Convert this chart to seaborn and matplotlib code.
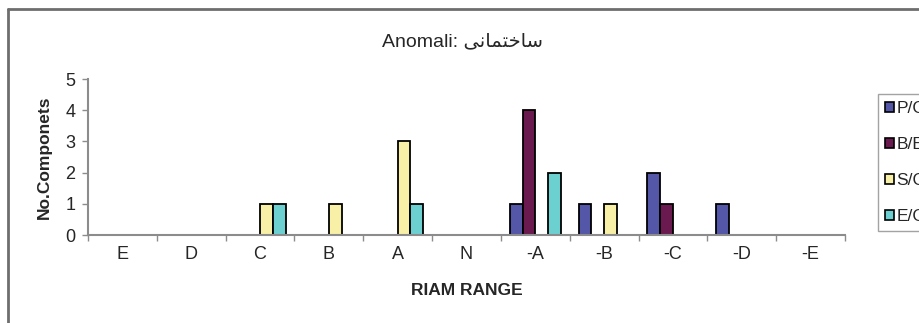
import numpy as np
import pandas as pd
import seaborn as sns
import matplotlib.pyplot as plt
from matplotlib.lines import Line2D
from matplotlib.patches import Patch

ranges = ["E", "D", "C", "B", "A", "N", "-A", "-B", "-C", "-D", "-E"]
series = ["P/C", "B/E", "S/C", "E/O"]
pc = [0, 0, 0, 0, 0, 0, 1, 1, 2, 1, 0]
be = [0, 0, 0, 0, 0, 0, 4, 0, 1, 0, 0]
sc = [0, 0, 1, 1, 3, 0, 0, 1, 0, 0, 0]
eo = [0, 0, 1, 0, 1, 0, 2, 0, 0, 0, 0]
colors = ["#5456a8", "#6a1a4e", "#f8f0a6", "#6ccfd0"]

df = pd.DataFrame({
    "range": ranges * 4,
    "series": np.repeat(series, len(ranges)),
    "count": pc + be + sc + eo,
})

sns.set_style("white")
plt.rcParams["font.family"] = ["Liberation Sans", "DejaVu Sans"]

fig = plt.figure(figsize=(9.2, 3.23), dpi=100)
ax = fig.add_axes([88 / 920, 1 - 235 / 323, (845 - 88) / 920, (235 - 79) / 323])

sns.barplot(data=df, x="range", y="count", hue="series", order=ranges,
            hue_order=series, palette=colors, edgecolor="black",
            linewidth=1.3, width=0.745, saturation=1, legend=False, ax=ax)

# hide empty bars so the baseline stays grey
for p in ax.patches:
    if p.get_height() == 0:
        p.set_visible(False)

ax.set_ylim(0, 5)
ax.set_xlim(-0.5, len(ranges) - 0.5)
ax.set_yticks(range(6))
ax.set_xticks(np.arange(len(ranges) + 1) - 0.5, minor=True)
ax.tick_params(axis="x", which="major", length=0, labelsize=13, pad=8)
ax.tick_params(axis="x", which="minor", length=4, color="#8c8c8c", width=1,
               direction="out", bottom=True)
ax.tick_params(axis="y", length=4, color="#8c8c8c", width=1,
               direction="out", left=True, labelsize=13, pad=5)
for s in ["top", "right"]:
    ax.spines[s].set_visible(False)
for s in ["left", "bottom"]:
    ax.spines[s].set_color("#8c8c8c")
    ax.spines[s].set_linewidth(1.5)

ax.set_xlabel("RIAM RANGE", fontsize=12.5, fontweight="bold", labelpad=14)
ax.set_ylabel("No.Componets", fontsize=12.5, fontweight="bold", labelpad=10)

# Persian word shaped by hand (presentation forms, visual order)
fa = "\ufef0\ufee7\ufe8e\ufee4\ufe98\ufea7\ufe8e\ufeb3"
fig.text(463 / 920, 1 - 42 / 323, "Anomali: " + fa, ha="center", va="center",
         fontsize=14, family=["Liberation Sans", "DejaVu Sans"])

handles = [Patch(facecolor=c, edgecolor="black", linewidth=1.2) for c in colors]
fig.legend(handles, series, loc="upper left",
           bbox_to_anchor=(878 / 920, 1 - 94 / 323), frameon=True,
           fancybox=False, edgecolor="#8c8c8c", fontsize=12.5,
           labelspacing=1.2, handlelength=0.5, handleheight=0.5,
           handletextpad=0.15, borderpad=0.42, borderaxespad=0)

# chart area border (top and left edges visible)
fig.add_artist(Line2D([8 / 920, 8 / 920], [0, 1 - 9 / 323],
                      transform=fig.transFigure, color="#6e6e6e", lw=2))
fig.add_artist(Line2D([8 / 920, 1], [1 - 9 / 323, 1 - 9 / 323],
                      transform=fig.transFigure, color="#6e6e6e", lw=2))

fig.savefig("out.png", dpi=100)
